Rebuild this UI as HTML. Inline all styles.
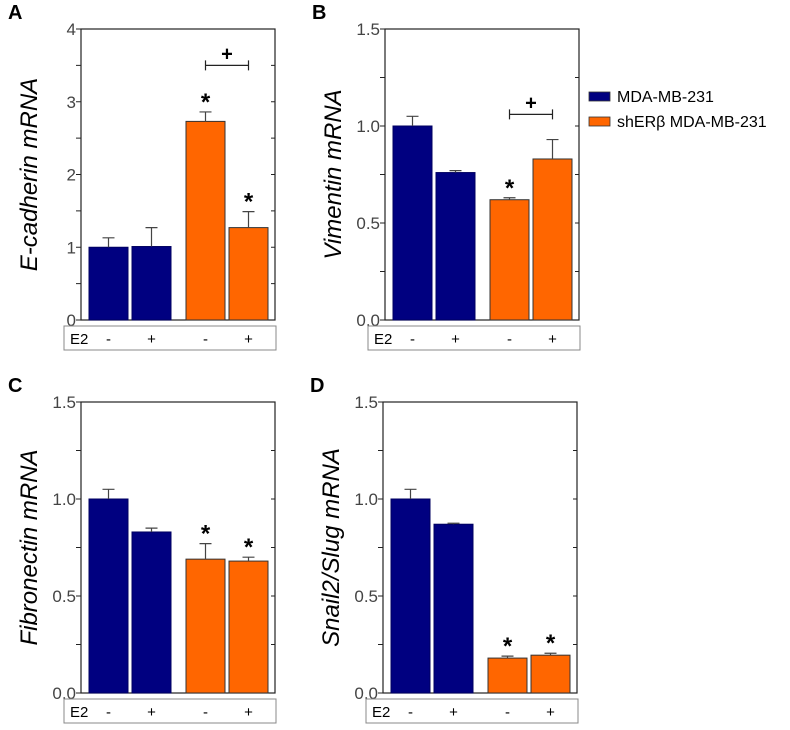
<!DOCTYPE html>
<html><head><meta charset="utf-8"><style>
body{margin:0;background:#fff;width:790px;height:725px;overflow:hidden}
text{font-family:"Liberation Sans",sans-serif}
</style></head><body>
<svg id="fig" width="790" height="725" viewBox="0 0 790 725" xmlns="http://www.w3.org/2000/svg"></svg>
<script>
const groups = ["-", "+", "-", "+"];
const aValues = [1.0, 1.01, 2.73, 1.27];
const aErrors = [0.13, 0.26, 0.13, 0.22];
const bValues = [1.0, 0.76, 0.62, 0.83];
const bErrors = [0.05, 0.01, 0.01, 0.10];
const cValues = [1.0, 0.83, 0.69, 0.68];
const cErrors = [0.05, 0.02, 0.08, 0.02];
const dValues = [1.0, 0.87, 0.18, 0.195];
const dErrors = [0.05, 0.005, 0.01, 0.01];
const aTicks = ["0", "1", "2", "3", "4"];
const bTicks = ["0.0", "0.5", "1.0", "1.5"];
const aStars = [false, false, true, true];
const bStars = [false, false, true, false];
const cStars = [false, false, true, true];
const dStars = [false, false, true, true];
const legendLabels = ["MDA-MB-231", "shERβ MDA-MB-231"];

const svg = document.getElementById('fig');
const NS = 'http://www.w3.org/2000/svg';
function mk(tag, attrs, parent) {
  const e = document.createElementNS(NS, tag);
  for (const k in attrs) e.setAttribute(k, attrs[k]);
  (parent || svg).appendChild(e);
  return e;
}
const colors = ["#000080", "#000080", "#ff6600", "#ff6600"];
const barOff = [8, 51, 105, 148];
const barW = 39;

function panel(cfg) {
  const g = mk('g', {});
  
  
  const L = cfg.x, T = cfg.y, W = 194, H = 291, B = T + H;
  const ticks = cfg.ticks.map(Number);
  const ymax = ticks[ticks.length - 1];
  const yScale = v => B - v / ymax * H;
  const lt = mk('text', {x: L - 73, y: T - 10, 'font-size': 20, 'font-weight': 'bold'}, g);
  lt.textContent = cfg.letter;
  
  
  mk('rect', {x: L, y: T, width: W, height: H, fill: 'none', stroke: '#222', 'stroke-width': 1.2}, g);
  const step = ticks[1] - ticks[0];
  for (let v = 0; v <= ymax + 1e-9; v += step / 2) {
    const y = yScale(v);
    mk('line', {x1: L - 5, x2: L, y1: y, y2: y, stroke: '#222'}, g);
    mk('line', {x1: L + W - 4, x2: L + W, y1: y, y2: y, stroke: '#222'}, g);
  }
  cfg.ticks.forEach((t, i) => {
    const tx = mk('text', {x: L - 5, y: yScale(ticks[i]) + 6, 'font-size': 17, 'text-anchor': 'end', fill: '#444'}, g);
    tx.textContent = t;
    
    
  });
  const at = mk('text', {x: 0, y: 0, 'font-size': 24, 'font-style': 'italic', 'text-anchor': 'middle', transform: `translate(${L - 44},${T + H / 2}) rotate(-90)`}, g);
  at.textContent = cfg.title;
  
  
  cfg.values.forEach((v, i) => {
    const x = L + barOff[i], y = yScale(v);
    const r = mk('rect', {x: x, y: y, width: barW, height: B - y, fill: colors[i], stroke: i < 2 ? '#000060' : '#333', 'stroke-width': 1}, g);
    
    
    const cx = x + barW / 2, ey = yScale(v + cfg.errors[i]);
    const eb = mk('path', {d: `M${cx},${y}V${ey}M${cx - 6},${ey}H${cx + 6}`, stroke: '#444', 'stroke-width': 1.2, fill: 'none'}, g);
    
    
    if (cfg.stars[i]) {
      const s = mk('text', {x: cx, y: ey - 2, 'font-size': 24, 'font-weight': 'bold', 'text-anchor': 'middle'}, g);
      s.textContent = '*';
      
      
    }
  });
  if (cfg.bracket != null) {
    const by = yScale(cfg.bracket);
    const x1 = L + barOff[2] + barW / 2, x2 = L + barOff[3] + barW / 2;
    const br = mk('path', {d: `M${x1},${by - 5}V${by + 5}M${x1},${by}H${x2}M${x2},${by - 5}V${by + 5}`, stroke: '#222', 'stroke-width': 1.2, fill: 'none'}, g);
    
    
    const p = mk('text', {x: (x1 + x2) / 2, y: by - 5, 'font-size': 20, 'font-weight': 'bold', 'text-anchor': 'middle'}, g);
    p.textContent = '+';
    
    
  }
  const eg = mk('g', {}, g);
  
  
  mk('rect', {x: L - 17, y: B + 6, width: W + 18, height: 24, fill: 'none', stroke: '#888', 'stroke-width': 1}, eg);
  const e2 = mk('text', {x: L - 11, y: B + 24, 'font-size': 15}, eg);
  e2.textContent = 'E2';
  groups.forEach((s, i) => {
    const t = mk('text', {x: L + barOff[i] + barW / 2, y: B + 24, 'font-size': 15, 'text-anchor': 'middle'}, eg);
    t.textContent = s;
    
    
  });
}
panel({name: 'panel-a-ecadherin', letter: 'A', x: 81, y: 29, ticks: aTicks, title: 'E-cadherin mRNA', values: aValues, errors: aErrors, stars: aStars, bracket: 3.5});
panel({name: 'panel-b-vimentin', letter: 'B', x: 385, y: 29, ticks: bTicks, title: 'Vimentin mRNA', values: bValues, errors: bErrors, stars: bStars, bracket: 1.06});
panel({name: 'panel-c-fibronectin', letter: 'C', x: 81, y: 402, ticks: bTicks, title: 'Fibronectin mRNA', values: cValues, errors: cErrors, stars: cStars, bracket: null});
panel({name: 'panel-d-snail2', letter: 'D', x: 383, y: 402, ticks: bTicks, title: 'Snail2/Slug mRNA', values: dValues, errors: dErrors, stars: dStars, bracket: null});

const lg = mk('g', {});


legendLabels.forEach((lab, i) => {
  const y = 92 + i * 25;
  mk('rect', {x: 589, y: y, width: 21, height: 9, fill: i ? '#ff6600' : '#000080', stroke: '#333', 'stroke-width': 0.8}, lg);
  const t = mk('text', {x: 617, y: y + 10, 'font-size': 16}, lg);
  t.textContent = lab;
  
  
});
</script>
</body></html>
